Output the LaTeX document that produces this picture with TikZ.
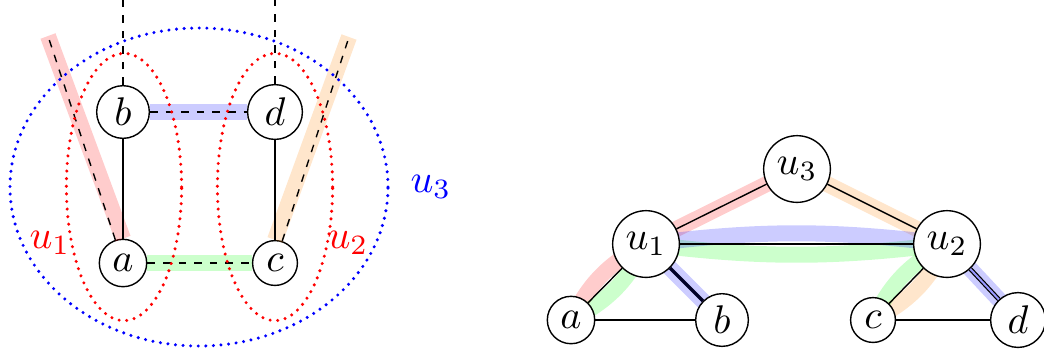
\documentclass[tikz,border=0pt]{standalone}
\begin{document}
\begin{tikzpicture}[x=0.25pt,y=-0.25pt,
  vtx/.style={circle,draw,fill=white,inner sep=1.8pt,line width=0.35pt},
  edg/.style={line width=0.35pt},
  dsh/.style={line width=0.35pt,dash pattern=on 1.9pt off 2pt},
  bnd/.style={line width=4pt,draw opacity=0.2},
  hyp/.style={line width=0.85pt,line cap=round,dash pattern=on 0pt off 1.9pt}]
\useasboundingbox (0,0) rectangle (1044,356);
% ---------- left picture ----------
\node[vtx] (b) at (123,112) {$b$};
\node[vtx] (d) at (275,112) {$d$};
\node[vtx] (a) at (123,263) {$a$};
\node[vtx] (c) at (275,263) {$c$};
\coordinate (ea) at (48,36);
\coordinate (ec) at (349,37);
\coordinate (eb) at (123,0);
\coordinate (ed) at (275,0);
% bands
\draw[bnd,red] (a.north) -- (ea);
\draw[bnd,orange] (c.north) -- (ec);
\draw[bnd,blue] (b) -- (d);
\draw[bnd,green] (a) -- (c);
% edges
\draw[edg] (b) -- (a);
\draw[edg] (d) -- (c);
\draw[dsh] (b) -- (d);
\draw[dsh] (a) -- (c);
\draw[dsh] (a) -- (ea);
\draw[dsh] (c) -- (ec);
\draw[dsh] (b) -- (eb);
\draw[dsh] (d) -- (ed);
% hyperedges
\draw[hyp,red] (124,187) ellipse [x radius=14.4pt,y radius=33.4pt];
\draw[hyp,red] (275,187) ellipse [x radius=14.4pt,y radius=33.4pt];
\draw[hyp,blue] (199,187) ellipse [x radius=47.25pt,y radius=39.75pt];
\node[red] (lu1) at (50,243) {$u_1$};
\node[red] (lu2) at (348,243) {$u_2$};
\node[blue] (lu3) at (431,187) {$u_3$};
% ---------- right picture ----------
\coordinate (pu3) at (797,169);
\coordinate (pu1) at (646,244);
\coordinate (pu2) at (947,244);
\coordinate (pa) at (571,320);
\coordinate (pb) at (722,320);
\coordinate (pc) at (873,320);
\coordinate (pd) at (1018,320);
% bands
\draw[bnd,red] (pa) to[bend left=18] (pu1);
\draw[bnd,red] (pu1) -- (pu3);
\draw[bnd,orange] (pu2) -- (pu3);
\draw[bnd,orange] (pc) to[bend right=18] (pu2);
\draw[bnd,green] (pa) to[bend right=18] (pu1);
\draw[bnd,green] (pu1) to[bend right=7] (pu2);
\draw[bnd,green] (pu2) to[bend right=18] (pc);
\draw[bnd,blue] (pb) -- (pu1);
\draw[bnd,blue] (pu1) to[bend left=7] (pu2);
\draw[bnd,blue] (pu2) -- (pd);
% nodes
\node[vtx] (u3) at (pu3) {$u_3$};
\node[vtx] (u1) at (pu1) {$u_1$};
\node[vtx] (u2) at (pu2) {$u_2$};
\node[vtx] (ra) at (pa) {$a$};
\node[vtx] (rb) at (pb) {$b$};
\node[vtx] (rc) at (pc) {$c$};
\node[vtx] (rd) at (pd) {$d$};
% edges
\draw[edg] (ra) -- (rb);
\draw[edg] (rc) -- (rd);
\draw[edg] (ra) -- (u1);
\draw[edg,line width=0.8pt,black!85!blue] (u1) -- (rb);
\draw[edg] (u1) -- (u3);
\draw[edg] (u3) -- (u2);
\draw[edg] (u1) -- (u2);
\draw[edg] (u2) -- (rc);
\draw[edg,double=blue!40,double distance=0.5pt,line width=0.3pt] (u2) -- (rd);
\end{tikzpicture}
\end{document}
